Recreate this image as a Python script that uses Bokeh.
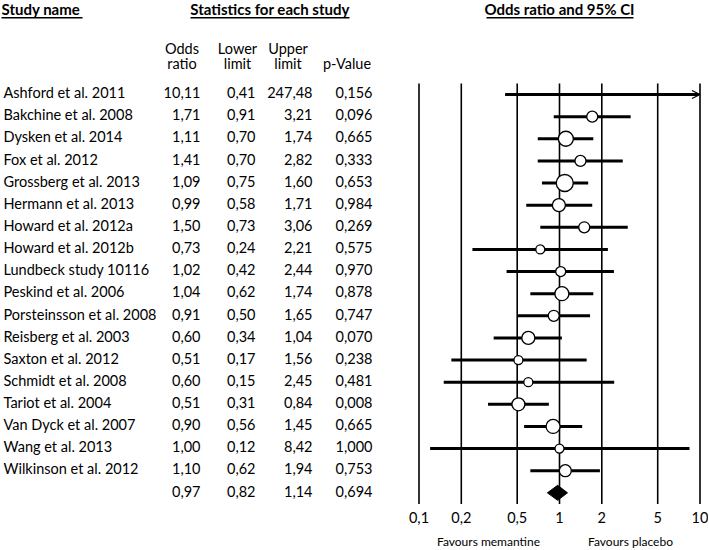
from bokeh.plotting import figure
from bokeh.layouts import row
from bokeh.models import Range1d, Arrow, OpenHead
from bokeh.embed import file_html
from bokeh.resources import INLINE
from bokeh.core.properties import value

# ---------------- data ----------------
studies = ["Ashford et al. 2011", "Bakchine et al. 2008", "Dysken et al. 2014", "Fox et al. 2012",
           "Grossberg et al. 2013", "Hermann et al. 2013", "Howard et al. 2012a", "Howard et al. 2012b",
           "Lundbeck study 10116", "Peskind et al. 2006", "Porsteinsson et al. 2008", "Reisberg et al. 2003",
           "Saxton et al. 2012", "Schmidt et al. 2008", "Tariot et al. 2004", "Van Dyck et al. 2007",
           "Wang et al. 2013", "Wilkinson et al. 2012"]
odds_ratio = [10.11, 1.71, 1.11, 1.41, 1.09, 0.99, 1.50, 0.73, 1.02, 1.04, 0.91, 0.60, 0.51, 0.60, 0.51, 0.90, 1.00, 1.10]
lower_limit = [0.41, 0.91, 0.70, 0.70, 0.75, 0.58, 0.73, 0.24, 0.42, 0.62, 0.50, 0.34, 0.17, 0.15, 0.31, 0.56, 0.12, 0.62]
upper_limit = [247.48, 3.21, 1.74, 2.82, 1.60, 1.71, 3.06, 2.21, 2.44, 1.74, 1.65, 1.04, 1.56, 2.45, 0.84, 1.45, 8.42, 1.94]
p_value = [0.156, 0.096, 0.665, 0.333, 0.653, 0.984, 0.269, 0.575, 0.970, 0.878, 0.747, 0.070, 0.238, 0.481, 0.008, 0.665, 1.000, 0.753]
study_weight = [4, 11, 15, 11, 17, 13, 11, 9, 10, 14, 11, 13, 9, 9, 13, 14, 9, 12]  # relative weight (marker diameter)

pooled_or, pooled_lower, pooled_upper, pooled_p = 0.97, 0.82, 1.14, 0.694

tick_values = [0.1, 0.2, 0.5, 1, 2, 5, 10]
tick_labels = ["0,1", "0,2", "0,5", "1", "2", "5", "10"]
axis_max = 10

# ---------------- helpers ----------------
FONT = value("Lato")
def f2(v):
    return f"{v:.2f}".replace(".", ",")
def f3(v):
    return f"{v:.3f}".replace(".", ",")

n = len(studies)
rows_i = list(range(n))
sum_row = n
TXT_SHIFT = -0.08

H = 550
yr = Range1d(20.606, -4.248)

def ref2log(px):
    return 10 ** ((px - 559.0) / 140.5)

FS = "14.5px"
BFS = "15px"
HDR_Y = -3.85
UL_Y = -3.47

# ---------------- left table ----------------
left = figure(width=400, height=H, x_range=Range1d(0, 400), y_range=yr,
              output_backend="svg", toolbar_location=None, min_border=0)
left.axis.visible = False
left.grid.visible = False
left.outline_line_color = None

# headers
left.text(x=[1], y=[HDR_Y], text=["Study name"], text_font=FONT, text_font_style="bold",
          text_font_size=BFS, text_baseline="middle", text_align="left", text_color="black")
left.text(x=[269.5], y=[HDR_Y], text=["Statistics for each study"], text_font=FONT, text_font_style="bold",
          text_font_size=BFS, text_baseline="middle", text_align="center", text_color="black")
left.segment(x0=[1, 190], y0=[UL_Y, UL_Y], x1=[82, 349], y1=[UL_Y, UL_Y], line_color="black", line_width=1.4)

hdr_x = [181.5, 237, 287.5]
left.text(x=hdr_x, y=[-2.06] * 3, text=["Odds", "Lower", "Upper"], text_font=FONT, text_font_size=FS,
          text_align="center", text_baseline="middle", text_color="black")
left.text(x=hdr_x + [346.5], y=[-1.40] * 4, text=["ratio", "limit", "limit", "p-Value"], text_font=FONT,
          text_font_size=FS, text_align="center", text_baseline="middle", text_color="black")

# study rows
ty = [r + TXT_SHIFT for r in rows_i]
left.text(x=[3] * n, y=ty, text=studies, text_font=FONT, text_font_size=FS,
          text_align="left", text_baseline="middle", text_color="black")
all_y = ty + [sum_row + TXT_SHIFT]
for xr, vals, fmt in [(200, odds_ratio + [pooled_or], f2), (255, lower_limit + [pooled_lower], f2),
                      (312, upper_limit + [pooled_upper], f2), (372, p_value + [pooled_p], f3)]:
    left.text(x=[xr] * (n + 1), y=all_y, text=[fmt(v) for v in vals], text_font=FONT, text_font_size=FS,
              text_align="right", text_baseline="middle", text_color="black")

# ---------------- right forest plot ----------------
right = figure(width=308, height=H, x_axis_type="log", x_range=Range1d(ref2log(400), ref2log(708)),
               y_range=yr, output_backend="svg", toolbar_location=None, min_border=0)
right.axis.visible = False
right.grid.visible = False
right.outline_line_color = None

right.text(x=[1], y=[HDR_Y], text=["Odds ratio and 95% CI"], text_font=FONT, text_font_style="bold",
           text_font_size=BFS, text_baseline="middle", text_align="center", text_color="black")
right.segment(x0=[ref2log(486)], y0=[UL_Y], x1=[ref2log(633)], y1=[UL_Y], line_color="black", line_width=1.4)

# reference vertical lines
right.segment(x0=tick_values, y0=[-0.5] * len(tick_values), x1=tick_values, y1=[18.5] * len(tick_values),
              line_color="black", line_width=1.6)

# CI lines
seg_lo, seg_hi, seg_y = [], [], []
for i in range(n):
    if upper_limit[i] > axis_max:
        right.add_layout(Arrow(end=OpenHead(size=8, line_width=1.3, line_color="black"),
                               x_start=lower_limit[i], y_start=i, x_end=axis_max, y_end=i,
                               line_width=3, line_color="black"))
    else:
        seg_lo.append(lower_limit[i]); seg_hi.append(upper_limit[i]); seg_y.append(i)
right.segment(x0=seg_lo, y0=seg_y, x1=seg_hi, y1=seg_y, line_color="black", line_width=3)

# point estimates
mx = [odds_ratio[i] for i in range(n) if odds_ratio[i] <= axis_max]
my = [i for i in range(n) if odds_ratio[i] <= axis_max]
ms = [study_weight[i] for i in range(n) if odds_ratio[i] <= axis_max]
right.scatter(x=mx, y=my, size=ms, marker="circle", fill_color="white", line_color="black", line_width=1.3)

# pooled diamond
h = 0.34
right.patch(x=[pooled_lower, pooled_or, pooled_upper, pooled_or],
            y=[sum_row, sum_row - h, sum_row, sum_row + h], fill_color="black", line_color="black")

# tick labels
right.text(x=tick_values, y=[19.12] * len(tick_values), text=tick_labels, text_font=FONT,
           text_font_size=FS, text_align="center", text_baseline="middle", text_color="black")
right.text(x=[ref2log(488), ref2log(630)], y=[20.22, 20.22], text=["Favours memantine", "Favours placebo"],
           text_font=FONT, text_font_size="12px", text_align="center", text_baseline="middle", text_color="black")

layout = row(left, right)
open("out.html", "w").write(file_html(layout, INLINE))
